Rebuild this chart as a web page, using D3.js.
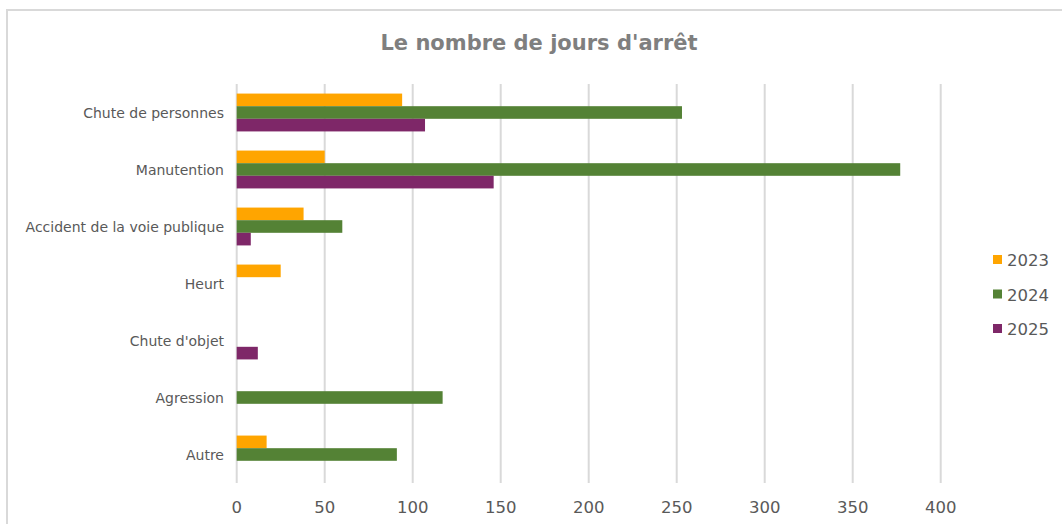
<!DOCTYPE html>
<html>
<head>
<meta charset="utf-8">
<script src="https://cdn.jsdelivr.net/npm/d3@7"></script>
<style>
  html, body { margin: 0; padding: 0; background: #ffffff; }
  svg { display: block; }
</style>
</head>
<body>
<svg id="chart" width="1062" height="524"></svg>
<script>
// Days lost per accident type, by year
const categories = ["Chute de personnes", "Manutention", "Accident de la voie publique", "Heurt", "Chute d'objet", "Agression", "Autre"];
const years = ["2023", "2024", "2025"];
const values2023 = [94, 50, 38, 25, 0, 0, 17];
const values2024 = [253, 377, 60, 0, 0, 117, 91];
const values2025 = [107, 146, 8, 0, 12, 0, 0];
const xTicks = [0, 50, 100, 150, 200, 250, 300, 350, 400];
const titleText = "Le nombre de jours d'arrêt";

const seriesValues = [values2023, values2024, values2025];
const colors = ["#FFA500", "#548235", "#7E2768"];

const svg = d3.select("#chart");
const font = "'DejaVu Sans', Verdana, sans-serif";

// Chart frame (top and left edges)
svg.append("path")
  .attr("d", "M7,524 V10 H1062")
  .attr("fill", "none")
  .attr("stroke", "#d9d9d9")
  .attr("stroke-width", 2);

// Title
svg.append("text")
  .attr("x", 539)
  .attr("y", 50)
  .attr("text-anchor", "middle")
  .attr("font-family", font)
  .attr("font-weight", "bold")
  .attr("font-size", 21)
  .attr("fill", "#7f7f7f")
  .text(titleText);

const plotTop = 84, plotBottom = 483;
const x = d3.scaleLinear().domain([0, 400]).range([236.7, 940.7]);
const y = d3.scaleBand().domain(categories).range([plotTop, plotBottom]).paddingInner(0.336).paddingOuter(0.168);
const ySub = d3.scaleBand().domain(years).range([0, y.bandwidth()]);

// Vertical gridlines
svg.append("g")
  .selectAll("line")
  .data(xTicks)
  .join("line")
  .attr("x1", d => x(d)).attr("x2", d => x(d))
  .attr("y1", plotTop).attr("y2", plotBottom)
  .attr("stroke", "#d9d9d9")
  .attr("stroke-width", 2);

// Bars
const groups = svg.append("g")
  .selectAll("g")
  .data(categories)
  .join("g")
  .attr("transform", c => `translate(0,${y(c)})`);

groups.selectAll("rect")
  .data((c, i) => years.map((yr, s) => ({ yr, s, v: seriesValues[s][i] })).filter(d => d.v > 0))
  .join("rect")
  .attr("x", x(0))
  .attr("y", d => ySub(d.yr))
  .attr("width", d => x(d.v) - x(0))
  .attr("height", ySub.bandwidth())
  .attr("fill", d => colors[d.s]);

// Category labels
svg.append("g")
  .selectAll("text")
  .data(categories)
  .join("text")
  .attr("x", 224)
  .attr("y", c => y(c) + y.bandwidth() / 2 + 5.5)
  .attr("text-anchor", "end")
  .attr("font-family", font)
  .attr("font-size", 14)
  .attr("fill", "#595959")
  .text(c => c);

// X axis tick labels
svg.append("g")
  .selectAll("text")
  .data(xTicks)
  .join("text")
  .attr("x", d => x(d))
  .attr("y", 512.5)
  .attr("text-anchor", "middle")
  .attr("font-family", font)
  .attr("font-size", 16.5)
  .attr("fill", "#595959")
  .text(d => d);

// Legend
const legend = svg.append("g")
  .selectAll("g")
  .data(years)
  .join("g")
  .attr("transform", (d, i) => `translate(993,${255 + i * 34.5})`);

legend.append("rect")
  .attr("width", 9).attr("height", 9)
  .attr("fill", (d, i) => colors[i]);

legend.append("text")
  .attr("x", 14)
  .attr("y", 11)
  .attr("font-family", font)
  .attr("font-size", 16.5)
  .attr("fill", "#595959")
  .text(d => d);
</script>
</body>
</html>
